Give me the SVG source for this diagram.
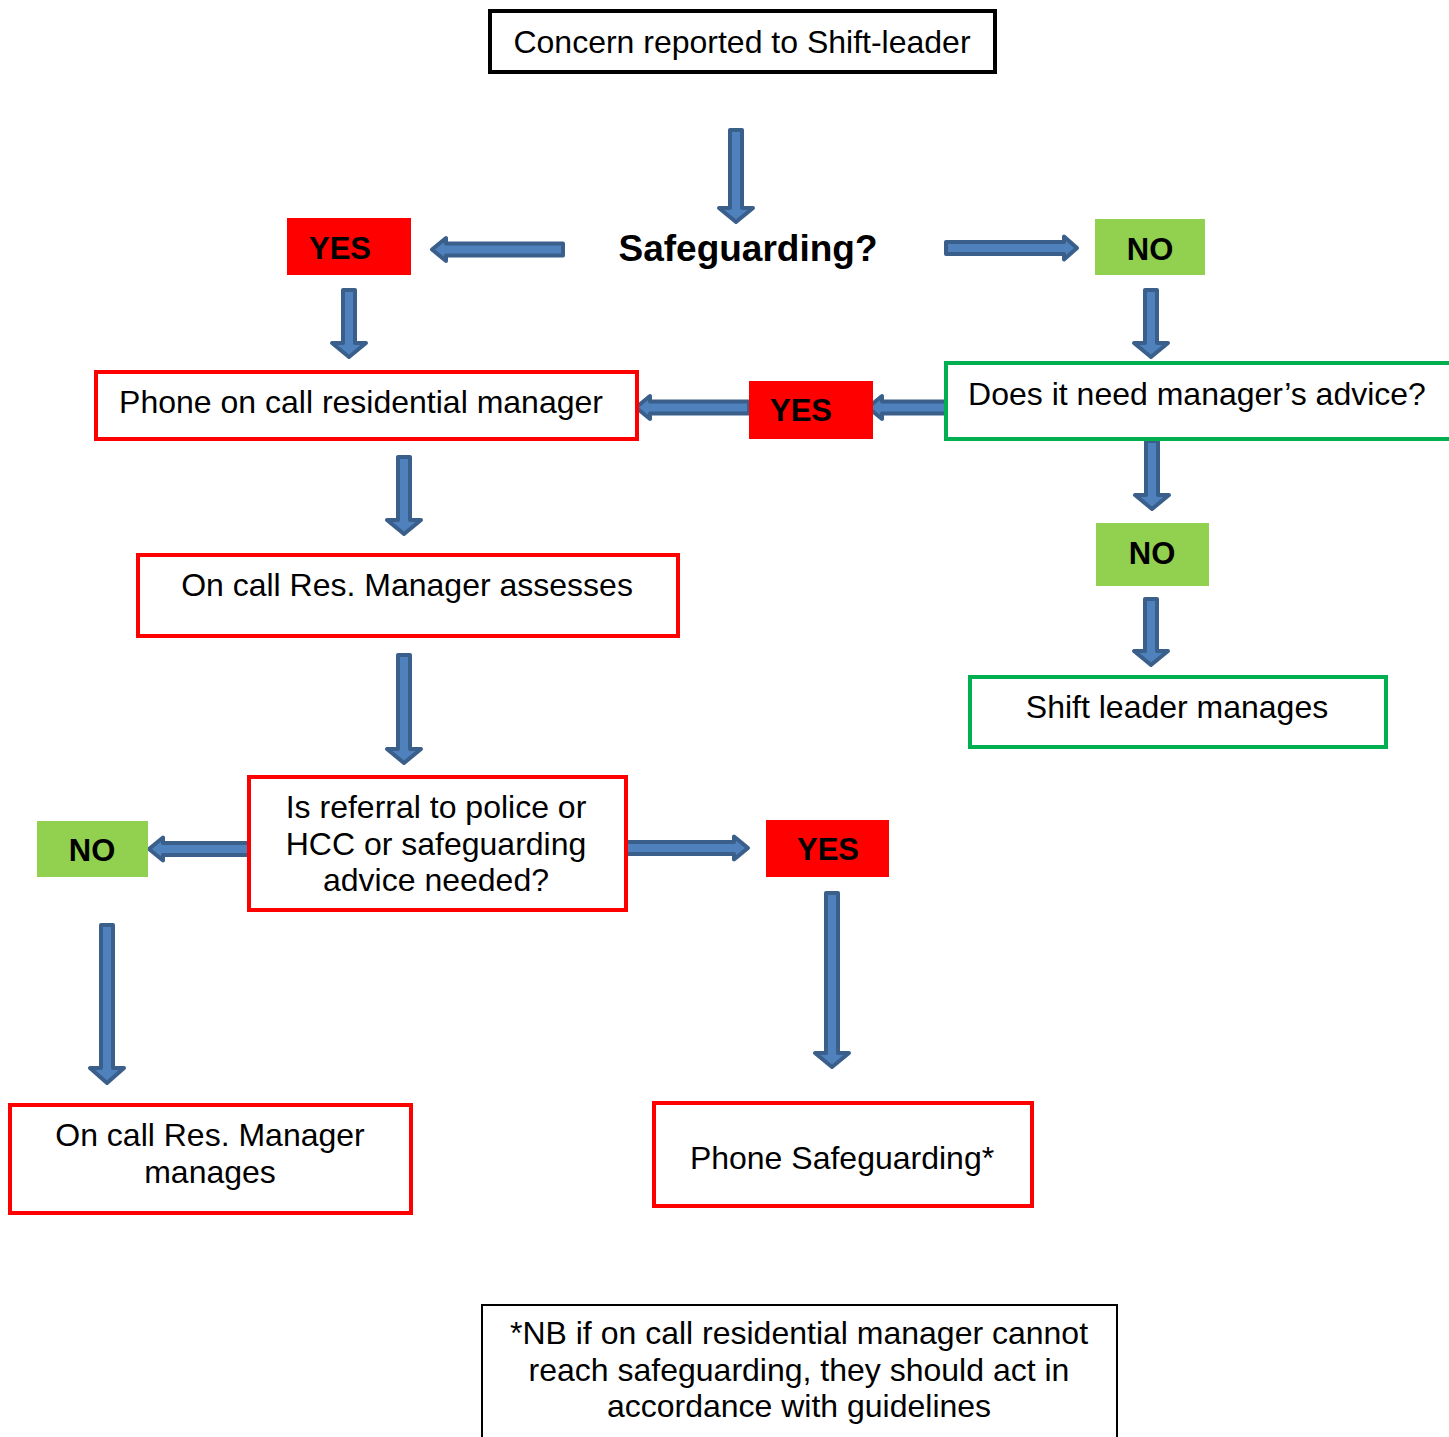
<svg xmlns="http://www.w3.org/2000/svg" width="1449" height="1437" viewBox="0 0 1449 1437">
<style>
text{font-family:"Liberation Sans",Arial,sans-serif;fill:#000;text-anchor:middle}
.t{font-size:32px}
.b{font-size:31px;font-weight:bold}
.red{fill:#fff;stroke:#FF0000;stroke-width:4}
.grn{fill:#fff;stroke:#00B050;stroke-width:4}
.blk{fill:#fff;stroke:#000;stroke-width:4}
.yes{fill:#FF0000}
.no{fill:#92D050}
.arr{fill:#4F81BD;stroke:#3A5F8B;stroke-width:4;stroke-linejoin:round}
</style>
<rect width="1449" height="1437" fill="#fff"/>
<g id="connectors">
<path class="arr" d="M730,130H742V208H753L736,222L719,208H730Z"/>
<path class="arr" d="M343,290H355V343H366L349,357L332,343H343Z"/>
<path class="arr" d="M1145,290H1157V343H1168L1151,357L1134,343H1145Z"/>
<path class="arr" d="M1146,441H1158V495H1169L1152,509L1135,495H1146Z"/>
<path class="arr" d="M1145,599H1157V651H1168L1151,665L1134,651H1145Z"/>
<path class="arr" d="M398,457H410V520H421L404,534L387,520H398Z"/>
<path class="arr" d="M398,655H410V749H421L404,763L387,749H398Z"/>
<path class="arr" d="M101,925H113V1068H124L107,1083L90,1068H101Z"/>
<path class="arr" d="M826,893H838V1053H849L832,1067L815,1053H826Z"/>
<path class="arr" d="M563,243.5V255.5H446V261L432,249.5L446,238V243.5Z"/>
<path class="arr" d="M946,242V254H1064V259.5L1077,248L1064,236.5V242Z"/>
<path class="arr" d="M946,401.5V413.5H882V419L868,407.5L882,396V401.5Z"/>
<path class="arr" d="M749,401.5V413.5H650V419L636,407.5L650,396V401.5Z"/>
<path class="arr" d="M250,843V855H163V860.5L149,849L163,837.5V843Z"/>
<path class="arr" d="M626,842V854H734V859.5L748,848L734,836.5V842Z"/>
</g>
<g id="concern"><rect class="blk" x="490" y="11" width="505" height="61"/><text class="t" x="742" y="53">Concern reported to Shift-leader</text></g>
<g id="safeguarding"><text x="748" y="261" style="font-size:37px;font-weight:bold">Safeguarding?</text></g>
<g id="yes1"><rect class="yes" x="287" y="218" width="124" height="57"/><text class="b" x="340" y="259">YES</text></g>
<g id="no1"><rect class="no" x="1095" y="219" width="110" height="56"/><text class="b" x="1150" y="260">NO</text></g>
<g id="phone-manager"><rect class="red" x="96" y="372" width="541" height="67"/><text class="t" x="361" y="413">Phone on call residential manager</text></g>
<g id="yes2"><rect class="yes" x="749" y="381" width="124" height="58"/><text class="b" x="801" y="421">YES</text></g>
<g id="advice"><rect class="grn" x="946" y="363" width="510" height="76"/><text class="t" x="1197" y="405">Does it need manager’s advice?</text></g>
<g id="no2"><rect class="no" x="1096" y="523" width="113" height="63"/><text class="b" x="1152" y="564">NO</text></g>
<g id="shift-manages"><rect class="grn" x="970" y="677" width="416" height="70"/><text class="t" x="1177" y="718">Shift leader manages</text></g>
<g id="assesses"><rect class="red" x="138" y="555" width="540" height="81"/><text class="t" x="407" y="596">On call Res. Manager assesses</text></g>
<g id="referral"><rect class="red" x="249" y="777" width="377" height="133"/><text class="t" x="436" y="818">Is referral to police or</text><text class="t" x="436" y="855">HCC or safeguarding</text><text class="t" x="436" y="891">advice needed?</text></g>
<g id="no3"><rect class="no" x="37" y="821" width="111" height="56"/><text class="b" x="92" y="861">NO</text></g>
<g id="yes3"><rect class="yes" x="766" y="820" width="123" height="57"/><text class="b" x="828" y="860">YES</text></g>
<g id="res-manages"><rect class="red" x="10" y="1105" width="401" height="108"/><text class="t" x="210" y="1146">On call Res. Manager</text><text class="t" x="210" y="1183">manages</text></g>
<g id="phone-safeguarding"><rect class="red" x="654" y="1103" width="378" height="103"/><text class="t" x="842" y="1169">Phone Safeguarding*</text></g>
<g id="note"><rect x="482" y="1305" width="635" height="140" fill="#fff" stroke="#000" stroke-width="2"/><text class="t" x="799" y="1344">*NB if on call residential manager cannot</text><text class="t" x="799" y="1381">reach safeguarding, they should act in</text><text class="t" x="799" y="1417">accordance with guidelines</text></g>
</svg>
